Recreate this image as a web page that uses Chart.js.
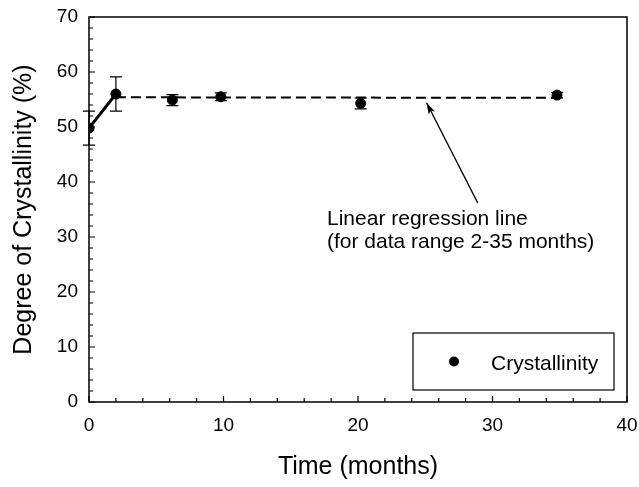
<!DOCTYPE html>
<html>
<head>
<meta charset="utf-8">
<title>Degree of Crystallinity</title>
<script src="https://cdn.jsdelivr.net/npm/chart.js@4/dist/chart.umd.min.js"></script>
<style>
    html, body { margin: 0; padding: 0; background: #fff; }
    #wrap { width: 639px; height: 487px; }
</style>
</head>
<body>
<div id="wrap"><canvas id="crystChart" width="639" height="487"></canvas></div>
<script>
// measured data
const months = [0, 2, 6.2, 9.8, 20.2, 34.8];
const crystallinity = [49.8, 56.0, 54.9, 55.5, 54.3, 55.8];
const errors = [3.1, 3.1, 1.0, 0.7, 1.0, 0.5];

// regression line (2-35 months)
const regMonths = [2, 35];
const regValues = [55.4, 55.3];

// arrow annotation, in data units
const arrowTail = [28.9, 36.2];
const arrowTip = [25.1, 54.4];
const noteLines = ['Linear regression line', '(for data range 2-35 months)'];

const xTicks = [0, 10, 20, 30, 40];
const yTicks = [0, 10, 20, 30, 40, 50, 60, 70];

const FONT = "'Liberation Sans', Arial, Helvetica, sans-serif";

function toPoints(xs, ys) {
    return xs.map((x, i) => ({ x: x, y: ys[i] }));
}

// frame + inward ticks
const frameTicks = {
    id: 'frameTicks',
    afterDraw(chart) {
        const { ctx, chartArea: a, scales: { x, y } } = chart;
        ctx.save();
        ctx.strokeStyle = '#000';
        ctx.lineWidth = 1.5;
        ctx.strokeRect(a.left, a.top, a.right - a.left, a.bottom - a.top);
        ctx.lineWidth = 1.2;
        ctx.beginPath();
        for (let v = x.min; v <= x.max; v += 2) {
            const px = x.getPixelForValue(v);
            const len = v % 10 === 0 ? 6 : 4;
            ctx.moveTo(px, a.bottom);
            ctx.lineTo(px, a.bottom - len);
        }
        for (let v = y.min; v <= y.max; v += 2) {
            const py = y.getPixelForValue(v);
            const len = v % 10 === 0 ? 6 : 4;
            ctx.moveTo(a.left, py);
            ctx.lineTo(a.left + len, py);
        }
        ctx.stroke();
        ctx.restore();
    }
};

// error bars for the points dataset
const errorBars = {
    id: 'errorBars',
    afterDatasetsDraw(chart) {
        const { ctx, scales: { x, y } } = chart;
        ctx.save();
        ctx.strokeStyle = '#000';
        ctx.lineWidth = 1.2;
        ctx.beginPath();
        months.forEach((m, i) => {
            const px = x.getPixelForValue(m);
            const hi = y.getPixelForValue(crystallinity[i] + errors[i]);
            const lo = y.getPixelForValue(crystallinity[i] - errors[i]);
            ctx.moveTo(px, hi); ctx.lineTo(px, lo);
            ctx.moveTo(px - 6, hi); ctx.lineTo(px + 6, hi);
            ctx.moveTo(px - 6, lo); ctx.lineTo(px + 6, lo);
        });
        ctx.stroke();
        ctx.restore();
    }
};

// arrow, note text and boxed legend
const notes = {
    id: 'notes',
    afterDraw(chart) {
        const { ctx, chartArea: a, scales: { x, y } } = chart;
        ctx.save();
        ctx.strokeStyle = '#000';
        ctx.fillStyle = '#000';

        // arrow
        const tx = x.getPixelForValue(arrowTail[0]), ty = y.getPixelForValue(arrowTail[1]);
        const hx = x.getPixelForValue(arrowTip[0]), hy = y.getPixelForValue(arrowTip[1]);
        const ang = Math.atan2(hy - ty, hx - tx);
        ctx.lineWidth = 1.3;
        ctx.beginPath();
        ctx.moveTo(tx, ty);
        ctx.lineTo(hx, hy);
        ctx.stroke();
        ctx.beginPath();
        ctx.moveTo(hx, hy);
        ctx.lineTo(hx - 12 * Math.cos(ang - 0.3), hy - 12 * Math.sin(ang - 0.3));
        ctx.lineTo(hx - 9 * Math.cos(ang), hy - 9 * Math.sin(ang));
        ctx.lineTo(hx - 12 * Math.cos(ang + 0.3), hy - 12 * Math.sin(ang + 0.3));
        ctx.closePath();
        ctx.fill();

        // note text
        ctx.font = '21px ' + FONT;
        ctx.textBaseline = 'alphabetic';
        ctx.textAlign = 'left';
        noteLines.forEach((t, i) => ctx.fillText(t, 327, 225 + i * 23));

        // legend box
        const bx = a.right - 214, by = a.bottom - 69, bw = 201, bh = 57;
        ctx.lineWidth = 1.2;
        ctx.strokeRect(bx, by, bw, bh);
        ctx.beginPath();
        ctx.arc(bx + 41, by + bh / 2, 5, 0, Math.PI * 2);
        ctx.fill();
        ctx.font = '21px ' + FONT;
        ctx.fillText('Crystallinity', bx + 78, by + 37);
        ctx.restore();
    }
};

new Chart(document.getElementById('crystChart'), {
    type: 'scatter',
    data: {
        datasets: [{
            label: 'Crystallinity',
            data: toPoints(months, crystallinity),
            backgroundColor: '#000',
            borderColor: '#000',
            pointRadius: 5,
            showLine: false
        }, {
            label: 'initial',
            data: toPoints(months.slice(0, 2), crystallinity.slice(0, 2)),
            borderColor: '#000',
            borderWidth: 3,
            pointRadius: 0,
            showLine: true
        }, {
            label: 'regression',
            data: toPoints(regMonths, regValues),
            borderColor: '#000',
            borderWidth: 2,
            borderDash: [10, 5],
            pointRadius: 0,
            showLine: true
        }]
    },
    options: {
        responsive: false,
        animation: false,
        layout: { padding: { top: 17, right: 12, left: 0, bottom: 0 } },
        plugins: {
            legend: { display: false },
            tooltip: { enabled: false }
        },
        scales: {
            x: {
                type: 'linear',
                min: 0,
                max: 40,
                afterFit: s => { s.height = 85; s.paddingLeft = 0; s.paddingRight = 0; },
                afterBuildTicks: s => { s.ticks = xTicks.map(v => ({ value: v })); },
                grid: { display: false, drawTicks: false },
                border: { display: false },
                ticks: { color: '#000', padding: 12, font: { family: FONT, size: 19 } },
                title: {
                    display: true,
                    text: 'Time (months)',
                    color: '#000',
                    padding: { top: 0, bottom: 5 },
                    font: { family: FONT, size: 25 }
                }
            },
            y: {
                type: 'linear',
                min: 0,
                max: 70,
                afterFit: s => { s.width = 89; s.paddingTop = 0; s.paddingBottom = 0; },
                afterBuildTicks: s => { s.ticks = yTicks.map(v => ({ value: v })); },
                grid: { display: false, drawTicks: false },
                border: { display: false },
                ticks: { color: '#000', padding: 11, font: { family: FONT, size: 19 } },
                title: {
                    display: true,
                    text: 'Degree of Crystallinity (%)',
                    color: '#000',
                    padding: { top: 9, bottom: 9 },
                    font: { family: FONT, size: 25 }
                }
            }
        }
    },
    plugins: [frameTicks, errorBars, notes]
});
</script>
</body>
</html>
